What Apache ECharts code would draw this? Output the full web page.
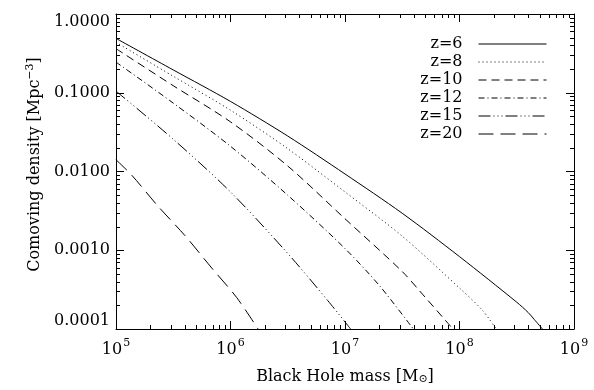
<!DOCTYPE html>
<html>
<head>
<meta charset="utf-8">
<script src="https://cdn.jsdelivr.net/npm/echarts@6/dist/echarts.min.js"></script>
<style>html,body{margin:0;padding:0;background:#fff}#c{width:594px;height:390px}</style>
</head>
<body>
<div id="c"></div>
<script>
// ---- data ----
const seriesNames = ['z=6', 'z=8', 'z=10', 'z=12', 'z=15', 'z=20'];
const massZ6  = [1e5, 3.16e5, 1e6, 3.16e6, 1e7, 3.16e7, 1e8, 3.16e8, 3.98e8, 4.5e8, 5.3e8];
const densZ6  = [0.49, 0.195, 0.0776, 0.0282, 0.0093, 0.00295, 0.00083, 0.000219, 0.000162, 0.000132, 0.0001];
const massZ8  = [1e5, 3.16e5, 1e6, 3.16e6, 1e7, 3.16e7, 1e8, 1.58e8, 2.09e8];
const densZ8  = [0.437, 0.162, 0.060, 0.0195, 0.0055, 0.00151, 0.000331, 0.000174, 0.0001];
const massZ10 = [1e5, 3.16e5, 1e6, 3.16e6, 1e7, 3.16e7, 4.57e7, 8.77e7];
const densZ10 = [0.363, 0.123, 0.0427, 0.01175, 0.00251, 0.000537, 0.000295, 0.0001];
const massZ12 = [1e5, 3.16e5, 1e6, 3.16e6, 1e7, 2e7, 3.95e7];
const densZ12 = [0.245, 0.074, 0.0209, 0.0050, 0.00105, 0.000355, 0.0001];
const massZ15 = [1e5, 3.16e5, 1e6, 3.16e6, 7.08e6, 1.12e7];
const densZ15 = [0.105, 0.0257, 0.0055, 0.000912, 0.000229, 0.0001];
const massZ20 = [1e5, 1.37e5, 2.33e5, 4.01e5, 6.85e5, 1.13e6, 1.74e6];
const densZ20 = [0.0141, 0.0090, 0.00362, 0.00153, 0.000596, 0.000252, 0.0001];
const xRange = [1e5, 1e9];
const yRange = [1e-4, 1];
const minorMultipliers = [2, 3, 4, 5, 6, 7, 8, 9];
const xDecades = [1e5, 1e6, 1e7, 1e8];
const yDecades = [1e-4, 1e-3, 1e-2, 1e-1];

// ---- styles ----
const FONT = 'DejaVu Serif';
const dashes = ['solid', [1, 3], [8, 5], [6, 3, 1, 3], [12, 3, 1, 3, 1, 3, 1, 3], [15, 7]];
const masses = [massZ6, massZ8, massZ10, massZ12, massZ15, massZ20];
const dens = [densZ6, densZ8, densZ10, densZ12, densZ15, densZ20];

const lineSeries = seriesNames.map((name, i) => ({
  name: name,
  type: 'line',
  xAxisIndex: 0, yAxisIndex: 0,
  data: masses[i].map((m, j) => [m, dens[i][j]]),
  showSymbol: false, symbol: 'none',
  smooth: 0.3,
  lineStyle: { color: '#000', width: 1, type: dashes[i] },
  itemStyle: { color: '#000' },
  z: 5
}));

const minorX = [];
xDecades.forEach(d => minorMultipliers.forEach(k => minorX.push([d * k, yRange[0]])));
const minorY = [];
yDecades.forEach(d => minorMultipliers.forEach(k => minorY.push([xRange[0], d * k])));

function px(v) { return Math.round(v) + 0.5; }
const tickStyle = { stroke: '#000', lineWidth: 1 };
function renderXMinor(params, api) {
  const v = api.value(0);
  const b = api.coord([v, yRange[0]]);
  const t = api.coord([v, yRange[1]]);
  const x = px(b[0]);
  return { type: 'group', children: [
    { type: 'line', shape: { x1: x, y1: b[1], x2: x, y2: b[1] - 4 }, style: tickStyle },
    { type: 'line', shape: { x1: x, y1: t[1], x2: x, y2: t[1] + 4 }, style: tickStyle }
  ]};
}
function renderYMinor(params, api) {
  const v = api.value(1);
  const l = api.coord([xRange[0], v]);
  const r = api.coord([xRange[1], v]);
  const y = px(l[1]);
  return { type: 'group', children: [
    { type: 'line', shape: { x1: l[0], y1: y, x2: l[0] + 4, y2: y }, style: tickStyle },
    { type: 'line', shape: { x1: r[0], y1: y, x2: r[0] - 4, y2: y }, style: tickStyle }
  ]};
}

const axisLine = { show: true, lineStyle: { color: '#000', width: 1 } };
const majorTick = { show: true, inside: true, length: 8, lineStyle: { color: '#000', width: 1 } };

const chart = echarts.init(document.getElementById('c'), null, { renderer: 'canvas' });
chart.setOption({
  animation: false,
  backgroundColor: '#fff',
  grid: { left: 116, right: 20, top: 14, bottom: 55, containLabel: false },
  legend: {
    data: seriesNames,
    orient: 'vertical',
    right: 42, top: 31,
    align: 'right',
    itemWidth: 68, itemHeight: 13, itemGap: 2,
    selectedMode: false,
    itemStyle: { opacity: 0, color: 'rgba(0,0,0,0)', borderWidth: 0 },
    lineStyle: { width: 1, color: '#000' },
    textStyle: { fontFamily: FONT, fontSize: 16, color: '#000', padding: [0, 11, 0, 0] }
  },
  xAxis: [{
    type: 'log', logBase: 10, min: xRange[0], max: xRange[1], position: 'bottom',
    axisLine: axisLine, axisTick: majorTick, splitLine: { show: false },
    axisLabel: {
      margin: 9, color: '#000', fontFamily: FONT, fontSize: 16,
      formatter: v => '{b|10}{sup|' + Math.round(Math.log10(v)) + '}',
      rich: {
        b: { fontFamily: FONT, fontSize: 16, color: '#000', verticalAlign: 'bottom' },
        sup: { fontFamily: FONT, fontSize: 11, color: '#000', verticalAlign: 'bottom', padding: [0, 0, 9, 1] }
      }
    },
    name: 'Black Hole mass [M{sub|⊙}]', nameLocation: 'middle', nameGap: 39,
    nameTextStyle: {
      fontFamily: FONT, fontSize: 16, color: '#000',
      rich: { sub: { fontFamily: FONT, fontSize: 11, color: '#000', padding: [6, 0, 0, 0] } }
    }
  }, {
    type: 'log', logBase: 10, min: xRange[0], max: xRange[1], position: 'top',
    axisLine: axisLine, axisTick: majorTick, axisLabel: { show: false }, splitLine: { show: false }
  }],
  yAxis: [{
    type: 'log', logBase: 10, min: yRange[0], max: yRange[1], position: 'left',
    axisLine: axisLine, axisTick: majorTick, splitLine: { show: false },
    axisLabel: {
      margin: 6, color: '#000', fontFamily: FONT, fontSize: 16,
      formatter: v => v.toFixed(4),
      verticalAlignMinLabel: 'bottom', verticalAlignMaxLabel: 'top'
    },
    name: 'Comoving density [Mpc{sup|−3}]', nameLocation: 'middle', nameGap: 67,
    nameTextStyle: {
      fontFamily: FONT, fontSize: 16, color: '#000', padding: [0, 0, 0, 14],
      rich: { sup: { fontFamily: FONT, fontSize: 11, color: '#000', padding: [0, 0, 9, 0] } }
    }
  }, {
    type: 'log', logBase: 10, min: yRange[0], max: yRange[1], position: 'right',
    axisLine: axisLine, axisTick: majorTick, axisLabel: { show: false }, splitLine: { show: false }
  }],
  series: lineSeries.concat([
    { type: 'custom', xAxisIndex: 0, yAxisIndex: 0, data: minorX, renderItem: renderXMinor, silent: true, z: 4, encode: { x: 0, y: 1 } },
    { type: 'custom', xAxisIndex: 0, yAxisIndex: 0, data: minorY, renderItem: renderYMinor, silent: true, z: 4, encode: { x: 0, y: 1 } }
  ])
});
</script>
</body>
</html>
